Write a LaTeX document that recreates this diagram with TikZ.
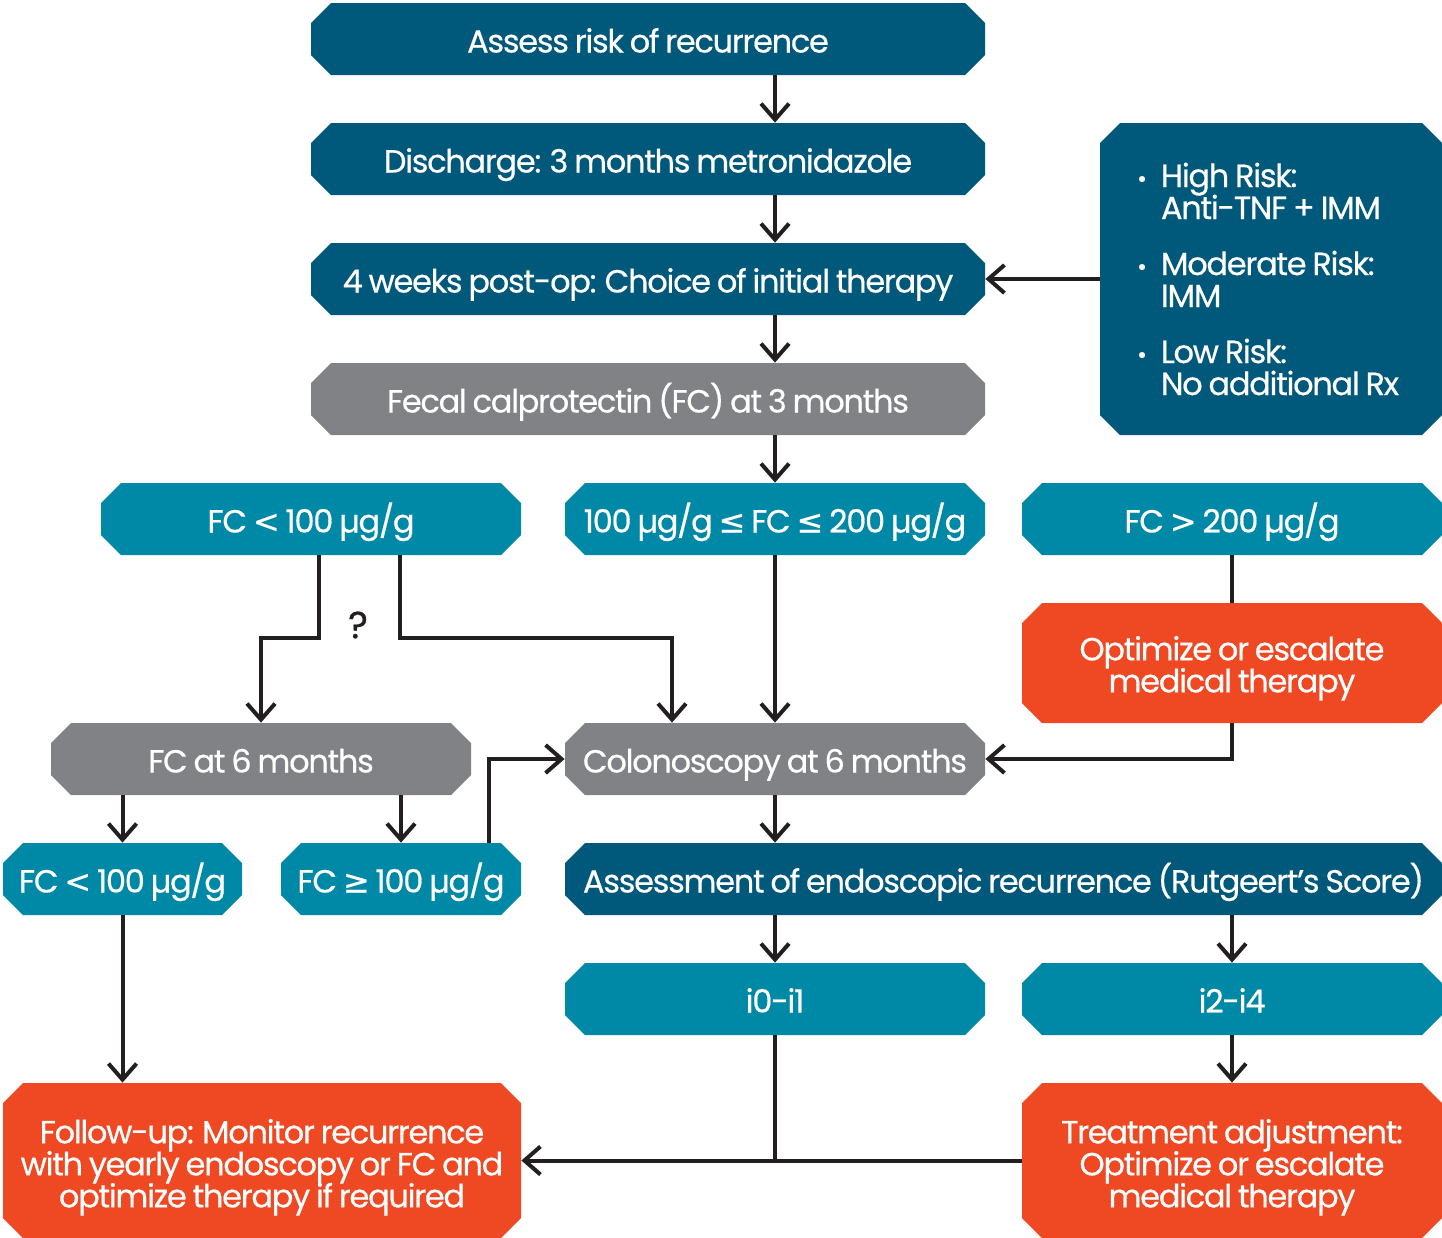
\documentclass[tikz,border=0pt]{standalone}
\usepackage{fontspec}
\setmainfont{Poppins}[LetterSpace=-4, WordSpace=0.8, FakeBold=0.5]
\newfontfamily\symf{DejaVu Sans}[FakeBold=0.5]
\usetikzlibrary{shapes.misc,arrows.meta}
\definecolor{dblue}{HTML}{00587B}
\definecolor{tealc}{HTML}{0089A7}
\definecolor{gry}{HTML}{808285}
\definecolor{orng}{HTML}{EE4923}
\definecolor{ink}{HTML}{231F20}
\newcommand{\lesym}{{\symf ≤}}
\newcommand{\gesym}{{\symf ≥}}
\newcommand{\ltsym}{{\symf <}}
\newcommand{\gtsym}{{\symf >}}
\newcommand{\bul}{\hspace*{15pt}\llap{{\fontsize{12}{12}\selectfont •}\hspace{7pt}}}
\newcommand{\ind}{\hspace*{15pt}}
\newcommand{\mytight}{\lineskiplimit=-30pt\relax}
\begin{document}
\mytight
\begin{tikzpicture}[x=0.5pt,y=-0.5pt,
  box/.style={chamfered rectangle, chamfered rectangle xsep=5pt, chamfered rectangle ysep=5pt,
    inner sep=0pt, text=white, align=center, minimum height=36pt,
    font=\fontsize{16}{16}\selectfont\mytight},
  one/.style={text height=15.5pt, text depth=2pt},
  bdark/.style={box, fill=dblue},
  bteal/.style={box, fill=tealc},
  bgray/.style={box, fill=gry},
  borange/.style={box, fill=orng},
  wide/.style={minimum width=337pt},
  colw/.style={minimum width=210pt},
  arr/.style={-{Straight Barb[length=8pt,width=14pt]}, line width=2pt, draw=ink},
  ln/.style={line width=2pt, draw=ink}
]
\useasboundingbox (0,0) rectangle (1442,1238);

\node[bdark, wide, one] (n1) at (648,39) {Assess risk of recurrence};
\node[bdark, wide, one] (n2) at (648,159) {Discharge: 3 months metronidazole};
\node[bdark, wide, one] (n3) at (648,279) {4 weeks post-op: Choice of initial therapy};
\node[bgray, wide, one] (n4) at (648,399) {Fecal calprotectin (FC) at 3 months};

\node[bdark, minimum width=171pt, minimum height=156pt, text width=140pt, align=left] (risk) at (1271,279)
 {\spaceskip=0pt\xspaceskip=0pt\relax
  \bul\mbox{High Risk:}\\
  \ind\mbox{Anti-TNF + IMM}\\[12pt]
  \bul\mbox{Moderate Risk:}\\
  \ind\mbox{IMM}\\[12pt]
  \bul\mbox{Low Risk:}\\
  \ind\mbox{No additional Rx}};

\node[bteal, colw, one] (f1) at (311,519) {FC \ltsym\ 100 µg/g};
\node[bteal, colw, one] (f2) at (775,519) {100 µg/g \lesym\ FC \lesym\ 200 µg/g};
\node[bteal, colw, one] (f3) at (1232,519) {FC \gtsym\ 200 µg/g};
\node[borange, colw, minimum height=60pt] (opt) at (1232,663) {\rule{0pt}{17.5pt}Optimize or escalate\\medical therapy};

\node[bgray, colw, one] (fc6) at (261,759) {FC at 6 months};
\node[bgray, colw, one] (colo) at (775,759) {Colonoscopy at 6 months};

\node[bteal, minimum width=119.5pt, one] (g1) at (122.5,879) {FC \ltsym\ 100 µg/g};
\node[bteal, minimum width=120pt, one] (g2) at (401,879) {FC \gesym\ 100 µg/g};
\node[bdark, minimum width=438.5pt, one] (ass) at (1003.5,879) {Assessment of endoscopic recurrence (Rutgeert’s Score)};

\node[bteal, colw, one] (i01) at (775,999) {i0-i1};
\node[bteal, colw, one] (i24) at (1232,999) {i2-i4};

\node[borange, minimum width=259pt, minimum height=77.5pt] (fu) at (262,1160.5)
  {\rule{0pt}{19pt}Follow-up: Monitor recurrence\\with yearly endoscopy or FC and\\optimize therapy if required};
\node[borange, colw, minimum height=77.5pt] (tr) at (1232,1160.5)
  {\rule{0pt}{19pt}Treatment adjustment:\\Optimize or escalate\\medical therapy};

\node[text=ink, font=\fontsize{19}{19}\selectfont] (q) at (358,625) {?};

% connectors
\draw[arr] (n1.south -| colo.center) -- (n2.north -| colo.center);
\draw[arr] (n2.south -| colo.center) -- (n3.north -| colo.center);
\draw[arr] (n3.south -| colo.center) -- (n4.north -| colo.center);
\draw[arr] (n4.south -| colo.center) -- (f2.north);
\draw[arr] (risk.west) -- (n3.east);
\draw[arr] (f2.south) -- (colo.north);
\draw[arr] ([xshift=4pt]f1.south) -- ++(0,83) -| (fc6.north);
\draw[arr] ([xshift=44.5pt]f1.south) -- ++(0,83) -| ([xshift=-51.5pt]colo.north);
\draw[ln] (f3.south) -- (opt.north);
\draw[arr] (opt.south) |- (colo.east);
\draw[arr] (fc6.south -| g1.north) -- (g1.north);
\draw[arr] (fc6.south -| g2.north) -- (g2.north);
\draw[arr] ([xshift=44pt]g2.north) |- (colo.west);
\draw[arr] (colo.south) -- (colo.south |- ass.north);
\draw[arr] (ass.south -| i01.north) -- (i01.north);
\draw[arr] (ass.south -| i24.north) -- (i24.north);
\draw[arr] (i24.south) -- (tr.north);
\draw[ln] (i01.south) -- (i01.south |- tr.west);
\draw[arr] (tr.west) -- (fu.east);
\draw[arr] (g1.south) -- (g1.south |- fu.north);
\end{tikzpicture}
\end{document}
